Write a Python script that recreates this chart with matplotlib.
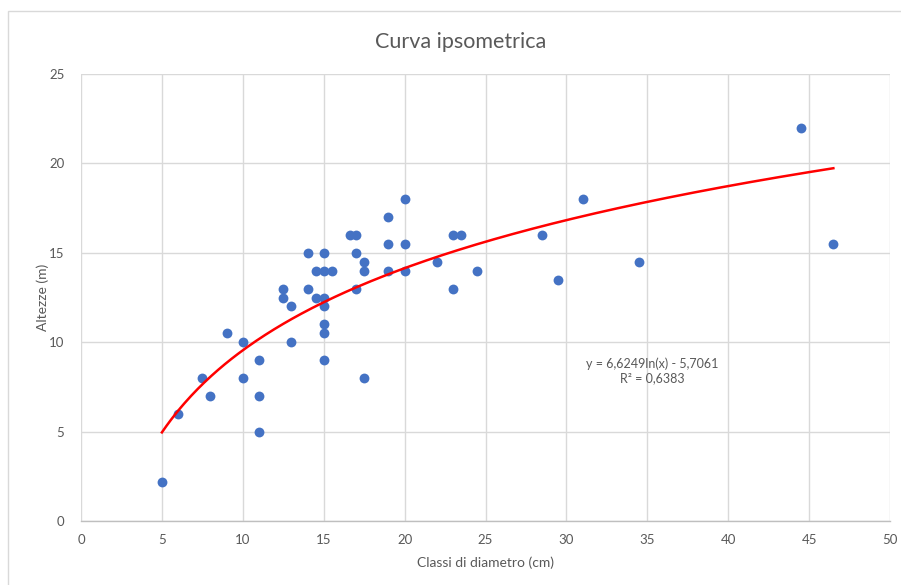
import numpy as np
import matplotlib
matplotlib.use("Agg")
import matplotlib.pyplot as plt
from matplotlib.patches import Rectangle

# Data
diametro = [5, 6, 7.5, 8, 9, 10, 10, 11, 11, 11,
            12.5, 12.5, 13, 13, 14, 14, 14.5, 14.5,
            15, 15, 15, 15, 15, 15, 15, 15.5,
            16.6, 17, 17, 17, 17.5, 17.5, 17.5,
            19, 19, 19, 20, 20, 20, 22, 23, 23.5, 23, 24.5,
            28.5, 29.5, 31, 34.5, 44.5, 46.5]
altezza = [2.2, 6, 8, 7, 10.5, 10, 8, 9, 7, 5,
           13, 12.5, 12, 10, 15, 13, 14, 12.5,
           15, 14, 12.5, 12, 11, 10.5, 9, 14,
           16, 16, 15, 13, 14.5, 14, 8,
           17, 15.5, 14, 18, 15.5, 14, 14.5, 16, 16, 13, 14,
           16, 13.5, 18, 14.5, 22, 15.5]

# Logarithmic trendline coefficients (as shown on the chart)
coef_a = 6.6249
coef_b = -5.7061
r2 = 0.6383

title = "Curva ipsometrica"
xlabel = "Classi di diametro (cm)"
ylabel = "Altezze (m)"
xticks = [0, 5, 10, 15, 20, 25, 30, 35, 40, 45, 50]
yticks = [0, 5, 10, 15, 20, 25]

plt.rcParams['font.family'] = ['Lato', 'DejaVu Sans']
gray = '#595959'

fig = plt.figure(figsize=(9.01, 5.85), dpi=100)
fig.patches.append(Rectangle((8/901, -0.5), 2, 1.5 - 11/585, transform=fig.transFigure,
                             fill=False, edgecolor='#D9D9D9', linewidth=1.0))
ax = fig.add_axes([81/901, 1 - 521/585, (890 - 81)/901, (521 - 74)/585])

ax.set_xlim(0, 50)
ax.set_ylim(0, 25)
ax.set_xticks(xticks)
ax.set_yticks(yticks)
ax.grid(True, color='#D9D9D9', linewidth=1.0)
ax.set_axisbelow(True)
for s in ['top', 'right', 'left']:
    ax.spines[s].set_visible(False)
ax.spines['bottom'].set_color('#BFBFBF')
ax.spines['bottom'].set_linewidth(1.0)
ax.tick_params(length=0, colors=gray, labelsize=9.5, pad=12)
ax.tick_params(axis='x', pad=9)

ax.scatter(diametro, altezza, s=50, color='#4472C4', zorder=3, linewidths=0)

xs = np.linspace(min(diametro), max(diametro), 300)
ax.plot(xs, coef_a * np.log(xs) + coef_b, color='#FF0000', linewidth=1.8, zorder=4)

ax.text(35.3, 8.4, "y = 6,6249ln(x) - 5,7061\nR² = 0,6383", color=gray, fontsize=9,
        ha='center', va='center', linespacing=1.3)

fig.text(461/901, 1 - 42/585, title, ha='center', va='center', fontsize=15.5, color=gray)
ax.set_xlabel(xlabel, color=gray, fontsize=10, labelpad=8)
ax.set_ylabel(ylabel, color=gray, fontsize=10, labelpad=0)

fig.savefig("out.png", dpi=100)
